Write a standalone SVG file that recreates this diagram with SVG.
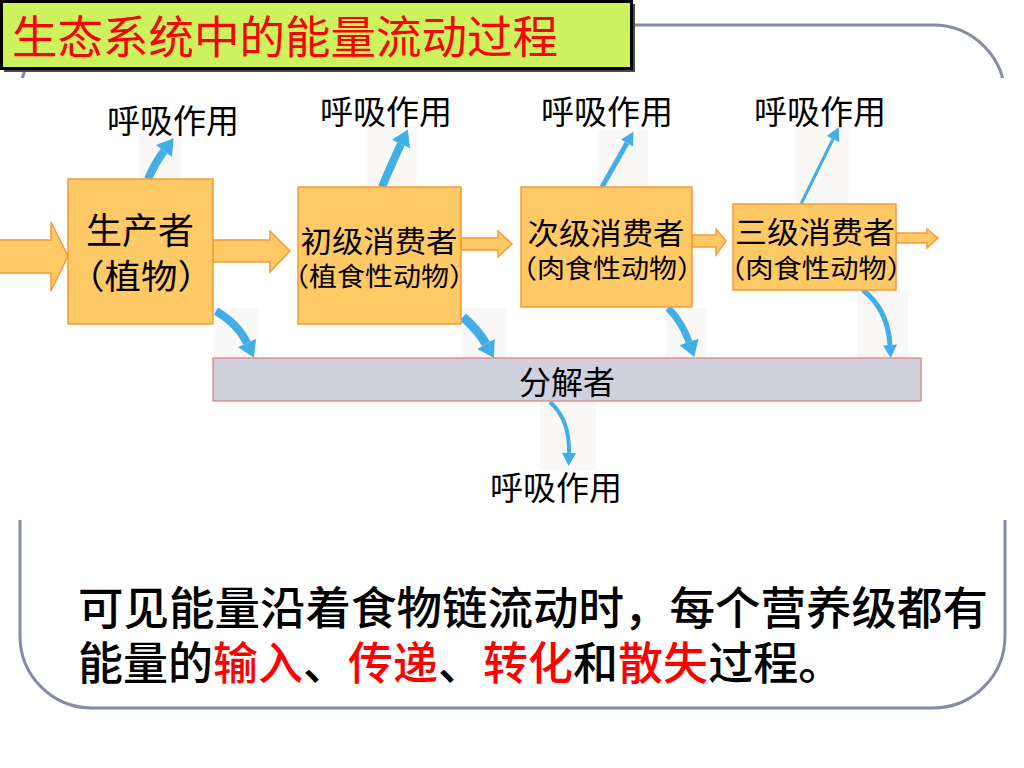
<svg xmlns="http://www.w3.org/2000/svg" width="1024" height="768" viewBox="0 0 1024 768">
<defs>
<style>
text{font-family:"Noto Sans CJK SC","Noto Sans CJK TC",sans-serif;fill:#000}
.box{fill:#ffc966;stroke:#f59a3a;stroke-width:1.5}
.oarr{fill:#ffc966;stroke:#f59a3a;stroke-width:1.5;stroke-linejoin:miter}
.blue{fill:none;stroke:#41aee6;stroke-linecap:butt}
.patch{fill:#f9f8f6}
.lbl{font-size:33px;text-anchor:middle}
.red{fill:#ff0000}
</style>
<marker id="hb" markerUnits="userSpaceOnUse" markerWidth="18" markerHeight="20" viewBox="0 0 16 20" refX="0" refY="10" orient="auto"><path d="M0,0 L16,10 L0,20 z" fill="#41aee6"/></marker>
<marker id="hs" markerUnits="userSpaceOnUse" markerWidth="14" markerHeight="14" viewBox="0 0 13 14" refX="0" refY="7" orient="auto"><path d="M0,0 L13,7 L0,14 z" fill="#41aee6"/></marker>
</defs>
<rect width="1024" height="768" fill="#fff"/>
<g id="frame">
<rect x="20" y="25" width="985" height="683" rx="72" ry="72" fill="none" stroke="#858ca3" stroke-width="3"/>
<rect x="0" y="78" width="1024" height="442" fill="#fff"/>
</g>
<g id="title">
<rect x="4" y="4" width="631" height="68" fill="#4a4a4a"/>
<rect x="1.5" y="1.5" width="630" height="67" fill="#ccf35e" stroke="#000" stroke-width="3"/>
<text x="12" y="54" font-size="45" class="red" textLength="546" lengthAdjust="spacingAndGlyphs">生态系统中的能量流动过程</text>
</g>
<g id="patches">
<rect class="patch" x="138" y="134" width="44" height="45"/>
<rect class="patch" x="367" y="126" width="50" height="61"/>
<rect class="patch" x="598" y="130" width="50" height="57"/>
<rect class="patch" x="795" y="128" width="54" height="76"/>
<rect class="patch" x="214" y="308" width="44" height="50"/>
<rect class="patch" x="462" y="308" width="44" height="50"/>
<rect class="patch" x="666" y="308" width="40" height="50"/>
<rect class="patch" x="857" y="291" width="51" height="67"/>
<rect class="patch" x="540" y="402" width="56" height="68"/>
</g>
<g id="connectors">
<polygon class="oarr" points="-2,240 51,240 51,222 68,256 51,291 51,273 -2,273"/>
<polygon class="oarr" points="213,240 270,240 270,231 290,251 270,272 270,262 213,262"/>
<polygon class="oarr" points="461,238 498,238 498,231 512,244 498,257 498,250 461,250"/>
<polygon class="oarr" points="692,235 716,235 716,229 726,241 716,255 716,247 692,247"/>
<polygon class="oarr" points="896,233 927,233 927,229 938,238 927,248 927,243 896,243"/>
<path class="blue" stroke-width="8" d="M148,179 Q155,163 164,151" marker-end="url(#hb)"/>
<path class="blue" stroke-width="8" d="M382,187 Q392,163 401,144" marker-end="url(#hb)"/>
<path class="blue" stroke-width="5" d="M602,187 L627,143" marker-end="url(#hs)"/>
<path class="blue" stroke-width="3" d="M801,204 L833,139" marker-end="url(#hs)"/>
<path class="blue" stroke-width="8" d="M216,311 Q238,324 247,343" marker-end="url(#hb)"/>
<path class="blue" stroke-width="9" d="M463,317 Q478,330 486,344" marker-end="url(#hb)"/>
<path class="blue" stroke-width="7" d="M668,308 Q682,322 689,342" marker-end="url(#hb)"/>
<path class="blue" stroke-width="5" d="M863,290 Q888,310 890,345" marker-end="url(#hs)"/>
<path class="blue" stroke-width="4" d="M550,402 Q570,420 569,453" marker-end="url(#hs)"/>
</g>
<g id="producer">
<rect class="box" x="68" y="179" width="145" height="145"/>
<text x="140" y="244" font-size="36" text-anchor="middle">生产者</text>
<text x="141" y="289" font-size="34" text-anchor="middle" textLength="146" lengthAdjust="spacingAndGlyphs">（植物）</text>
</g>
<g id="primary">
<rect class="box" x="298" y="187" width="163" height="137"/>
<text x="379" y="252" font-size="30" text-anchor="middle" textLength="157" lengthAdjust="spacingAndGlyphs">初级消费者</text>
<text x="379" y="286" font-size="26" text-anchor="middle" textLength="196" lengthAdjust="spacingAndGlyphs">（植食性动物）</text>
</g>
<g id="secondary">
<rect class="box" x="521" y="187" width="171" height="120"/>
<text x="606" y="244" font-size="30" text-anchor="middle" textLength="157" lengthAdjust="spacingAndGlyphs">次级消费者</text>
<text x="607" y="278" font-size="26" text-anchor="middle" textLength="196" lengthAdjust="spacingAndGlyphs">（肉食性动物）</text>
</g>
<g id="tertiary">
<rect class="box" x="733" y="204" width="163" height="86"/>
<text x="815" y="243" font-size="30" text-anchor="middle" textLength="160" lengthAdjust="spacingAndGlyphs">三级消费者</text>
<text x="816" y="278" font-size="26" text-anchor="middle" textLength="198" lengthAdjust="spacingAndGlyphs">（肉食性动物）</text>
</g>
<g id="decomposer">
<rect x="213" y="358" width="708" height="43" fill="#cfd1dc" stroke="#e07a7a" stroke-width="1.2"/>
<text x="567" y="394" font-size="32" text-anchor="middle">分解者</text>
</g>
<g id="labels">
<text class="lbl" x="173" y="133">呼吸作用</text>
<text class="lbl" x="386" y="124">呼吸作用</text>
<text class="lbl" x="607" y="124">呼吸作用</text>
<text class="lbl" x="820" y="124">呼吸作用</text>
<text class="lbl" x="556" y="500">呼吸作用</text>
</g>
<g id="summary">
<text font-size="45" font-weight="500"><tspan x="78" y="625" textLength="910" lengthAdjust="spacingAndGlyphs">可见能量沿着食物链流动时，每个营养级都有</tspan><tspan x="78" y="680">能量的</tspan><tspan class="red">输入</tspan><tspan>、</tspan><tspan class="red">传递</tspan><tspan>、</tspan><tspan class="red">转化</tspan><tspan>和</tspan><tspan class="red">散失</tspan><tspan>过程。</tspan></text>
</g>
</svg>
